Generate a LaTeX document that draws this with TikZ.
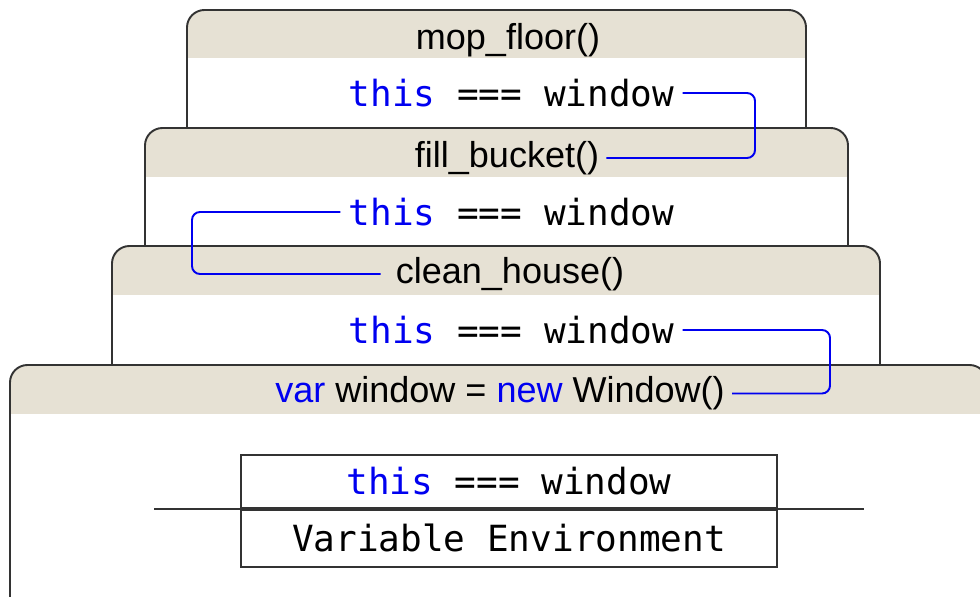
\documentclass[tikz,border=0pt]{standalone}
\usepackage{fontspec}
\setsansfont{Liberation Sans}
\setmonofont{DejaVu Sans Mono}
\usepackage{tikz}
\usetikzlibrary{positioning}
\definecolor{frameBeige}{HTML}{E6E1D4}
\definecolor{frameLine}{HTML}{333333}
\definecolor{codeBlue}{HTML}{0000F0}
\newcommand{\thiswin}{\textcolor{codeBlue}{this} === window}

\begin{document}
\begin{tikzpicture}[
  every node/.style={font=\sffamily\fontsize{20.5}{24}\selectfont, text=black},
  frameHead/.style={inner sep=0.14cm},
  codeLine/.style={font=\ttfamily\fontsize{20.5}{24}\selectfont, inner sep=0.16cm},
  bodyFill/.style={fill=white, rounded corners=0.35cm},
  headFill/.style={fill=frameBeige, rounded corners=0.35cm},
  rim/.style={draw=frameLine, line width=1.1pt, rounded corners=0.35cm},
  envCell/.style={
    draw=frameLine, line width=1.1pt, inner sep=0pt, minimum width=10.72cm,
    font=\ttfamily\fontsize{20.5}{24}\selectfont
  },
  link/.style={draw=codeBlue, line width=1.1pt, rounded corners=0.16cm},
]
\useasboundingbox (0,0) rectangle (19.6,11.92);
\clip (0,0) rectangle (19.6,11.92);

% mop_floor() frame
\path[bodyFill] (3.74,9.2) -- (3.74,11.72) -- (16.12,11.72) -- (16.12,9.2);
\path[headFill] (3.74,10.76) -- (3.74,11.72) -- (16.12,11.72) -- (16.12,10.76);
\draw[rim] (3.74,9.2) -- (3.74,11.72) -- (16.12,11.72) -- (16.12,9.2);
\node[frameHead] (mopHead) at (10.16,11.12) {mop\_floor()};
\node[codeLine] (mopThis) at (10.23,10.06) {\thiswin};

% fill_bucket() frame
\path[bodyFill] (2.9,6.9) -- (2.9,9.36) -- (16.96,9.36) -- (16.96,6.9);
\path[headFill] (2.9,8.38) -- (2.9,9.36) -- (16.96,9.36) -- (16.96,8.38);
\draw[rim] (2.9,6.9) -- (2.9,9.36) -- (16.96,9.36) -- (16.96,6.9);
\node[frameHead] (fillHead) at (10.14,8.76) {fill\_bucket()};
\node[codeLine] (fillThis) at (10.23,7.68) {\thiswin};

% clean_house() frame
\path[bodyFill] (2.24,4.5) -- (2.24,7.0) -- (17.6,7.0) -- (17.6,4.5);
\path[headFill] (2.24,6.02) -- (2.24,7.0) -- (17.6,7.0) -- (17.6,6.02);
\draw[rim] (2.24,4.5) -- (2.24,7.0) -- (17.6,7.0) -- (17.6,4.5);
\node[frameHead] (cleanHead) at (10.2,6.44) {clean\_house()};
\node[codeLine] (cleanThis) at (10.23,5.32) {\thiswin};

% global frame
\path[bodyFill] (0.2,-0.5) -- (0.2,4.62) -- (19.74,4.62) -- (19.74,-0.5);
\path[headFill] (0.2,3.64) -- (0.2,4.62) -- (19.74,4.62) -- (19.74,3.64);
\draw[rim] (0.2,-0.5) -- (0.2,4.62) -- (19.74,4.62) -- (19.74,-0.5);
\node[frameHead] (globalHead) at (10.0,4.05)
  {\textcolor{codeBlue}{var} window = \textcolor{codeBlue}{new} Window()};

% variable environment
\node[envCell, minimum height=1.06cm] (envThis) at (10.18,2.29) {\thiswin};
\node[envCell, minimum height=1.14cm, below=0pt of envThis] (envName) {Variable Environment};
\draw[frameLine, line width=1.1pt]
  ([xshift=-1.72cm]envName.north west) -- ([xshift=1.72cm]envName.north east);

% this links
\draw[link] (mopThis.east) -- ++(1.45,0) |- (fillHead.east);
\draw[link, shorten >=0.16cm] (fillThis.west) -- ++(-2.97,0) |- (cleanHead.west);
\draw[link] (cleanThis.east) -- ++(2.95,0) |- (globalHead.east);

\end{tikzpicture}
\end{document}
